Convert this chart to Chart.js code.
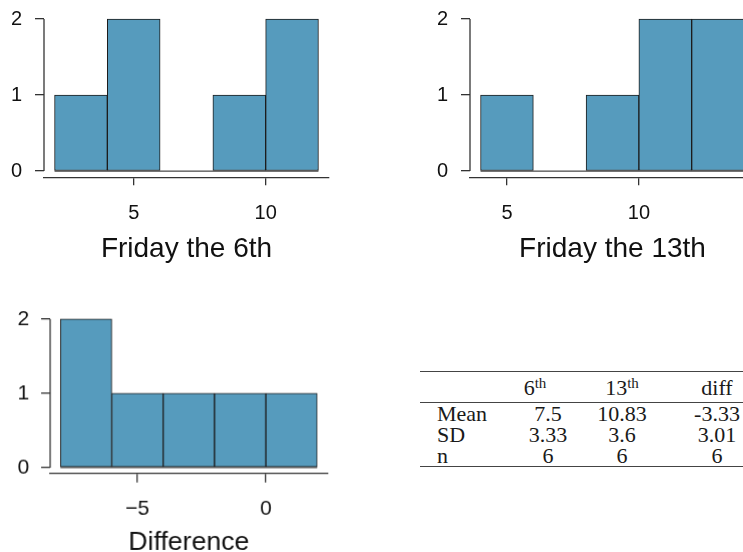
<!DOCTYPE html>
<html>
<head>
<meta charset="utf-8">
<script src="https://cdn.jsdelivr.net/npm/chart.js@4.4.1/dist/chart.umd.min.js"></script>
<style>
  html, body { margin: 0; padding: 0; background: #fff; }
  body { width: 743px; height: 552px; overflow: hidden; position: relative; }
  .panel { position: absolute; }
  #stats {
    position: absolute; left: 420px; top: 371px;
    border-collapse: collapse; table-layout: fixed; width: 351px;
    font-family: 'Liberation Serif', 'Times New Roman', serif; font-size: 22px; color: #1a1a1a;
  }
  #stats th, #stats td { padding: 0; text-align: center; font-weight: normal; line-height: 21px; }
  #stats thead th { height: 30px; border-top: 1.5px solid #444; border-bottom: 1px solid #444; }
  #stats tbody td { height: 21px; }
  #stats tbody tr:last-child td { border-bottom: 1.5px solid #444; }
  #stats .lab { text-align: left; padding-left: 17px; }
  #stats sup { font-size: 15px; vertical-align: 0.5em; line-height: 0; }
  #stats .shift { position: relative; left: -13px; }
</style>
</head>
<body>
<div class="panel"><canvas id="sixth"></canvas></div>
<div class="panel"><canvas id="thirteenth"></canvas></div>
<div class="panel"><canvas id="diff"></canvas></div>
<table id="stats">
  <colgroup><col style="width:95px"><col style="width:66px"><col style="width:82px"><col style="width:108px"></colgroup>
  <thead></thead>
  <tbody></tbody>
</table>
<script>
const BIN_WIDTH = 2;
const COUNT_TICKS = [0, 1, 2];

// histogram bins (midpoints) and counts
const sixthMids = [3, 5, 7, 9, 11];
const sixthCounts = [1, 2, 0, 1, 2];
const sixthTicks = [5, 10];

const thirteenthMids = [5, 7, 9, 11, 13];
const thirteenthCounts = [1, 0, 1, 2, 2];
const thirteenthTicks = [5, 10];

const diffMids = [-7, -5, -3, -1, 1];
const diffCounts = [2, 1, 1, 1, 1];
const diffTicks = [-5, 0];

// summary table
const columnHeads = [['6', 'th'], ['13', 'th'], ['diff', '']];
const statRows = ['Mean', 'SD', 'n'];
const sixthStats = ['7.5', '3.33', '6'];
const thirteenthStats = ['10.83', '3.6', '6'];
const diffStats = ['-3.33', '3.01', '6'];

const BAR_FILL = '#569BBD';
const BAR_EDGE = '#1c1c1c';
const AXIS = '#333';
const INK = '#111';
const SANS = "'Liberation Sans', Arial, Helvetica, sans-serif";
const Y_W = 44, PAD_T = 30, PAD_R = 16;

// R-style limits: range plus 4% on each side
function padRange(lo, hi) {
  const d = (hi - lo) * 0.04;
  return [lo - d, hi + d];
}

const fmtTick = (v) => (v < 0 ? '\u2212' + Math.abs(v) : String(v));

// y axis line only between first and last tick, like base R
const yAxisLine = {
  id: 'yAxisLine',
  afterDraw(chart) {
    const y = chart.scales.y;
    const ctx = chart.ctx;
    const x = chart.chartArea.left;
    ctx.save();
    ctx.strokeStyle = AXIS;
    ctx.lineWidth = 1.3;
    ctx.beginPath();
    ctx.moveTo(x, y.getPixelForValue(COUNT_TICKS[0]));
    ctx.lineTo(x, y.getPixelForValue(COUNT_TICKS[COUNT_TICKS.length - 1]));
    ctx.stroke();
    ctx.restore();
  }
};

function makeHist(id, area, mids, counts, xTicks, title, st) {
  const canvas = document.getElementById(id);
  const wrap = canvas.parentNode;
  const left = area.left - Y_W;
  const top = area.top - PAD_T;
  Object.assign(wrap.style, {
    left: left + 'px',
    top: top + 'px',
    width: (area.right + PAD_R - left) + 'px',
    height: (area.bottom + st.xHeight - top) + 'px'
  });

  const lo = mids[0] - BIN_WIDTH / 2;
  const hi = mids[mids.length - 1] + BIN_WIDTH / 2;
  const [xMin, xMax] = padRange(lo, hi);
  const [yMin, yMax] = padRange(0, Math.max(...counts));
  const tickFont = { family: SANS, size: st.tickSize };

  return new Chart(canvas, {
    type: 'bar',
    data: {
      datasets: [
        {
          type: 'line',
          data: [{ x: lo, y: 0 }, { x: hi, y: 0 }],
          borderColor: BAR_EDGE,
          borderWidth: 1,
          pointRadius: 0,
          order: 0
        },
        {
          data: mids.map((m, i) => ({ x: m, y: counts[i] })),
          backgroundColor: BAR_FILL,
          borderColor: BAR_EDGE,
          borderWidth: 1,
          borderSkipped: false,
          barPercentage: 1,
          categoryPercentage: 1,
          order: 1
        }
      ]
    },
    options: {
      responsive: true,
      maintainAspectRatio: false,
      animation: false,
      layout: { padding: { top: PAD_T, right: PAD_R, left: 0, bottom: 0 } },
      plugins: { legend: { display: false }, tooltip: { enabled: false } },
      scales: {
        x: {
          type: 'linear',
          min: xMin,
          max: xMax,
          offset: false,
          afterBuildTicks: (s) => { s.ticks = xTicks.map((v) => ({ value: v })); },
          afterFit: (s) => { s.height = st.xHeight; },
          grid: { offset: false, drawOnChartArea: false, tickLength: st.xTickLen, color: AXIS, lineWidth: 1.3 },
          border: { display: true, color: AXIS, width: 1.3 },
          ticks: { color: INK, font: tickFont, padding: st.xTickPad, maxRotation: 0, callback: fmtTick },
          title: {
            display: true,
            text: title,
            color: INK,
            font: { family: SANS, size: st.titleSize },
            padding: { top: 0, bottom: st.titlePad }
          }
        },
        y: {
          min: yMin,
          max: yMax,
          afterBuildTicks: (s) => { s.ticks = COUNT_TICKS.map((v) => ({ value: v })); },
          afterFit: (s) => { s.width = Y_W; },
          grid: { drawOnChartArea: false, tickLength: st.yTickLen, color: AXIS, lineWidth: 1.3 },
          border: { display: false },
          ticks: { color: INK, font: tickFont, padding: st.yTickPad, callback: fmtTick }
        }
      }
    },
    plugins: [yAxisLine]
  });
}

const topStyle = { xHeight: 98, tickSize: 20, xTickLen: 8, xTickPad: 16, yTickLen: 9, yTickPad: 13, titleSize: 28, titlePad: 9.5 };
const lowStyle = { xHeight: 98, tickSize: 21, xTickLen: 9, xTickPad: 14, yTickLen: 9, yTickPad: 11.7, titleSize: 26.5, titlePad: 13.5 };

makeHist('sixth', { left: 44, top: 12.9, right: 329, bottom: 177.1 },
  sixthMids, sixthCounts, sixthTicks, 'Friday the 6th', topStyle);
makeHist('thirteenth', { left: 470, top: 12.9, right: 755, bottom: 177.1 },
  thirteenthMids, thirteenthCounts, thirteenthTicks, 'Friday the 13th', topStyle);
makeHist('diff', { left: 50, top: 313.1, right: 326.5, bottom: 472.9 },
  diffMids, diffCounts, diffTicks, 'Difference', lowStyle);

function buildTable() {
  const thead = document.querySelector('#stats thead');
  const tbody = document.querySelector('#stats tbody');
  let head = '<tr><th></th>';
  columnHeads.forEach(([main, sup], i) => {
    const inner = sup ? `${main}<sup>${sup}</sup>` : main;
    head += i === 0 ? `<th><span class="shift">${inner}</span></th>` : `<th>${inner}</th>`;
  });
  thead.innerHTML = head + '</tr>';
  tbody.innerHTML = statRows.map((label, r) =>
    `<tr><td class="lab">${label}</td><td>${sixthStats[r]}</td><td>${thirteenthStats[r]}</td><td>${diffStats[r]}</td></tr>`
  ).join('');
}
buildTable();
</script>
</body>
</html>
